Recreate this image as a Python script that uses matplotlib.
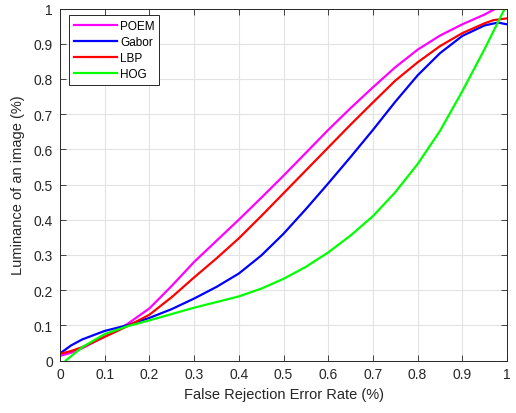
import numpy as np
import matplotlib
matplotlib.use('Agg')
import matplotlib.pyplot as plt

plt.rcParams['font.family'] = ['Liberation Sans', 'DejaVu Sans']

# values
poem_x = [0, 0.025, 0.05, 0.1, 0.15, 0.2, 0.25, 0.3, 0.35, 0.4, 0.45, 0.5, 0.55, 0.6, 0.65, 0.7, 0.75, 0.8, 0.85, 0.9, 0.95, 0.975]
poem_y = [0.013, 0.022, 0.035, 0.068, 0.103, 0.148, 0.212, 0.28, 0.34, 0.40, 0.462, 0.525, 0.59, 0.655, 0.717, 0.776, 0.833, 0.883, 0.923, 0.955, 0.983, 1.0]

gabor_x = [0, 0.025, 0.05, 0.1, 0.15, 0.2, 0.25, 0.3, 0.35, 0.4, 0.45, 0.5, 0.55, 0.6, 0.65, 0.7, 0.75, 0.8, 0.85, 0.9, 0.95, 0.98, 1.0]
gabor_y = [0.02, 0.043, 0.06, 0.084, 0.1, 0.121, 0.146, 0.176, 0.209, 0.247, 0.298, 0.36, 0.43, 0.503, 0.578, 0.655, 0.735, 0.81, 0.873, 0.922, 0.952, 0.96, 0.955]

lbp_x = [0, 0.025, 0.05, 0.1, 0.15, 0.2, 0.25, 0.3, 0.35, 0.4, 0.45, 0.5, 0.55, 0.6, 0.65, 0.7, 0.75, 0.8, 0.85, 0.9, 0.95, 0.97, 1.0]
lbp_y = [0.019, 0.027, 0.038, 0.067, 0.097, 0.13, 0.18, 0.236, 0.29, 0.347, 0.41, 0.475, 0.54, 0.605, 0.67, 0.733, 0.795, 0.847, 0.893, 0.93, 0.958, 0.967, 0.972]

hog_x = [0.013, 0.05, 0.1, 0.15, 0.2, 0.25, 0.3, 0.35, 0.4, 0.45, 0.5, 0.55, 0.6, 0.65, 0.7, 0.75, 0.8, 0.85, 0.9, 0.95, 0.995]
hog_y = [0, 0.038, 0.075, 0.097, 0.114, 0.132, 0.15, 0.166, 0.182, 0.204, 0.232, 0.266, 0.307, 0.355, 0.41, 0.478, 0.558, 0.652, 0.765, 0.885, 1.0]

ticks = [0, 0.1, 0.2, 0.3, 0.4, 0.5, 0.6, 0.7, 0.8, 0.9, 1]
tick_labels = ['0', '0.1', '0.2', '0.3', '0.4', '0.5', '0.6', '0.7', '0.8', '0.9', '1']

txt = '#262626'

fig = plt.figure(figsize=(5.16, 4.14), dpi=100)
ax = fig.add_axes([60/516, 52.5/414, 447/516, 352/414])

ax.plot(poem_x, poem_y, color='#FF00FF', lw=1.6, label='POEM')
ax.plot(gabor_x, gabor_y, color='#0000FF', lw=1.6, label='Gabor')
ax.plot(lbp_x, lbp_y, color='#FF0000', lw=1.6, label='LBP')
ax.plot(hog_x, hog_y, color='#00FF00', lw=1.6, label='HOG')

ax.set_xlim(0, 1)
ax.set_ylim(0, 1)
ax.set_xticks(ticks)
ax.set_xticklabels(tick_labels)
ax.set_yticks(ticks)
ax.set_yticklabels(tick_labels)
ax.grid(True, color='#e3e3e3', lw=0.8)
ax.set_axisbelow(True)
ax.tick_params(direction='in', top=True, right=True, length=4, width=0.6,
               colors='#262626', labelsize=10, pad=5)
for s in ax.spines.values():
    s.set_color('#262626')
    s.set_linewidth(0.7)

ax.set_xlabel('False Rejection Error Rate (%)', fontsize=10.5, color=txt, labelpad=4)
ax.set_ylabel('Luminance of an image (%)', fontsize=10.5, color=txt, labelpad=6)

leg = ax.legend(loc='upper left', bbox_to_anchor=(0.021, 0.981), borderaxespad=0,
                fontsize=8.5, handlelength=3.6, handletextpad=0.3, labelspacing=0.35,
                fancybox=False, framealpha=1, borderpad=0.4)
leg.get_frame().set_edgecolor('#262626')
leg.get_frame().set_linewidth(0.7)

fig.savefig('out.png', dpi=100)
